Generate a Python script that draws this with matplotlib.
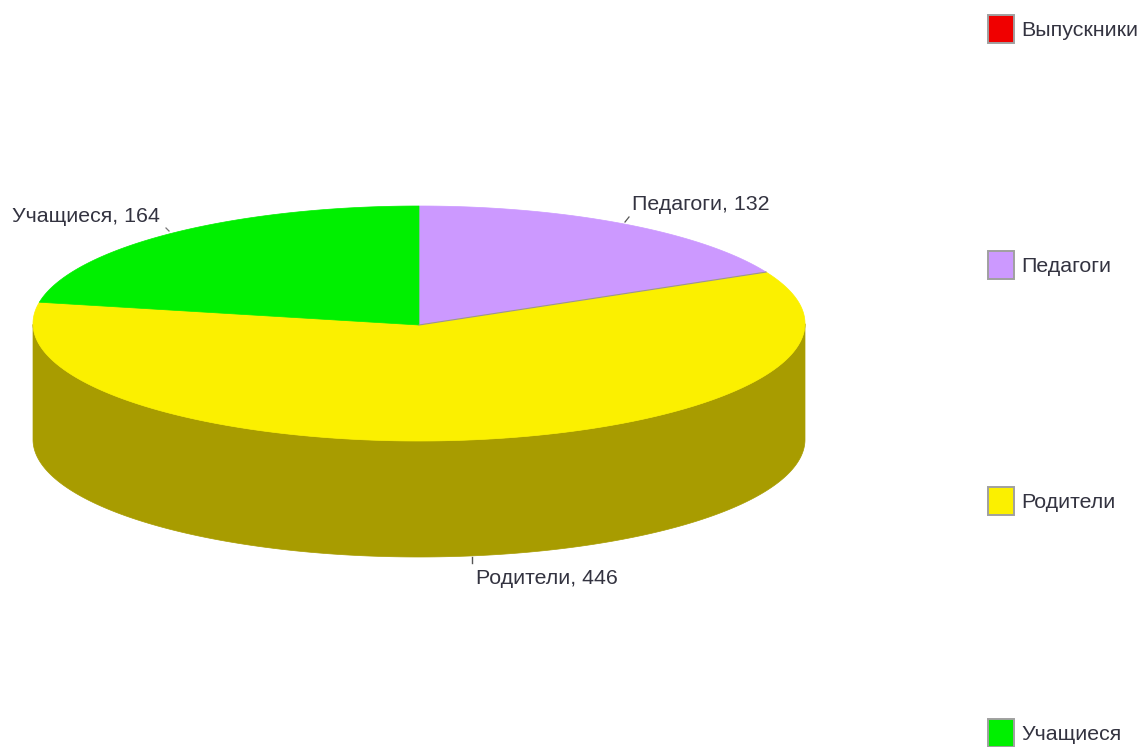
import numpy as np
import matplotlib
matplotlib.use('Agg')
import matplotlib.pyplot as plt
from matplotlib.patches import Rectangle

categories = ['Выпускники', 'Педагоги', 'Родители', 'Учащиеся']
values = [0, 132, 446, 164]
top_colors = ['#f00000', '#cc99ff', '#fbf000', '#00f000']
side_colors = ['#aa0000', '#8866aa', '#a89c00', '#00a000']

plt.rcParams['font.family'] = ['Liberation Sans', 'DejaVu Sans']

W, H = 1148, 747
cx, cy = 419, 323.5
apex_y = 325
rx, ry = 386, 117.5
depth = 116
font = 15.4
text_color = '#333340'


def ellipse(a):
    return cx + rx * np.cos(a), cy - ry * np.sin(a)


fig = plt.figure(figsize=(W / 100, H / 100), dpi=100)
ax = fig.add_axes([0, 0, 1, 1])
ax.set_xlim(0, W)
ax.set_ylim(H, 0)
ax.axis('off')

# clockwise from 12 o'clock, angles from the values
total = sum(values)
start = np.pi / 2
wedges = []
for i in range(len(values)):
    sweep = values[i] / total * 2 * np.pi
    wedges.append((start, start - sweep))
    start -= sweep

# side wall, only the part of the rim facing the viewer
for i in range(len(values)):
    a0, a1 = wedges[i]
    if a0 == a1:
        continue
    t = np.linspace(a0, a1, 300)
    t = t[np.sin(t) <= 0]
    if len(t) < 2:
        continue
    x, y = ellipse(t)
    ax.fill(np.r_[x, x[::-1]], np.r_[y, y[::-1] + depth],
            color=side_colors[i], lw=0.5, zorder=1)

# top face
for i in range(len(values)):
    a0, a1 = wedges[i]
    if a0 == a1:
        continue
    t = np.linspace(a0, a1, 300)
    x, y = ellipse(t)
    ax.fill(np.r_[cx, x], np.r_[apex_y, y], color=top_colors[i], lw=0.5, zorder=2)

# slice edge between Педагоги and Родители
x, y = ellipse(wedges[1][1])
ax.plot([cx, x], [apex_y, y], color='#9a8fa0', lw=0.8, zorder=3)

# slice labels with small leader ticks
ax.plot([625, 629], [222, 217], color='#555555', lw=0.9, zorder=3)
ax.plot([166, 169], [228, 231], color='#777777', lw=0.9, zorder=3)
ax.plot([472, 472], [557, 563], color='#555555', lw=1.0, zorder=3)
ax.text(632, 204, f'{categories[1]}, {values[1]}', fontsize=font, color=text_color,
        ha='left', va='center')
ax.text(12, 216, f'{categories[3]}, {values[3]}', fontsize=font, color=text_color,
        ha='left', va='center')
ax.text(476, 578, f'{categories[2]}, {values[2]}', fontsize=font, color=text_color,
        ha='left', va='center')

# legend
legend_y = [29, 265, 501, 733]
for i in range(len(categories)):
    ax.add_patch(Rectangle((987.5, legend_y[i] - 14), 26, 28, facecolor=top_colors[i],
                           edgecolor='#a0a0a0', lw=1.4, zorder=3))
    ax.text(1021, legend_y[i] + 1, categories[i], fontsize=font, color=text_color,
            ha='left', va='center')

fig.savefig('out.png', dpi=100, facecolor='white')
